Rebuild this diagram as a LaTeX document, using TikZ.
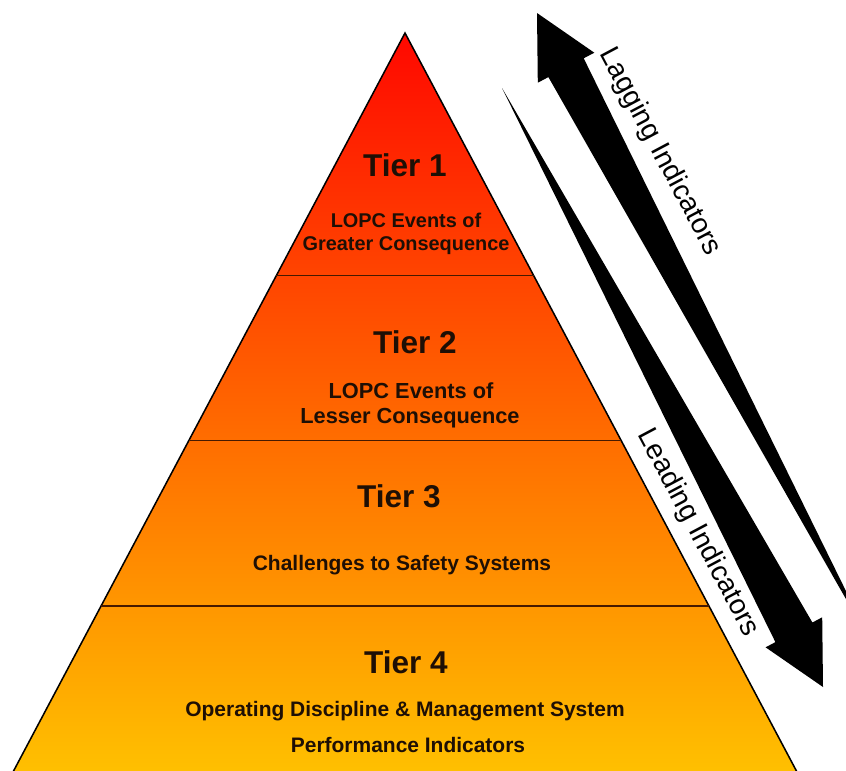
\documentclass[tikz,border=0pt]{standalone}
\usepackage{fontspec}
\setmainfont{Liberation Sans}
\usetikzlibrary{calc}
\definecolor{txt}{RGB}{30,15,5}
\definecolor{pyrtop}{RGB}{255,8,0}
\definecolor{pyrmid}{RGB}{255,105,0}
\definecolor{pyrbot}{RGB}{255,192,0}
\definecolor{divline}{RGB}{70,25,0}
\begin{document}
\begin{tikzpicture}[x=0.03cm,y=-0.03cm,
  tiertitle/.style={font=\bfseries\fontsize{26.9}{30}\selectfont, text=txt, anchor=base, inner sep=0pt},
  tiersub/.style={font=\bfseries\fontsize{17.9}{21}\selectfont, text=txt, anchor=base, inner sep=0pt},
  arrowlabel/.style={font=\fontsize{24}{28}\selectfont, text=black, rotate=-62, inner sep=0pt},
  bigarrow/.style={fill=black, draw=none},
  edge/.style={draw=black, line width=1.3pt, line join=miter},
  divider/.style={draw=divline, line width=1.3pt}]
\useasboundingbox (0,0) rectangle (846,770);
\clip (0,0) rectangle (846,770);
\fill[white] (0,0) rectangle (846,770);

% pyramid
\coordinate (apex) at (405,33);
\coordinate (bl) at (13,772);
\coordinate (br) at (797,772);
\shade[top color=pyrtop, middle color=pyrmid, bottom color=pyrbot] (apex) -- (bl) -- (br) -- cycle;
\draw[edge] (bl) -- (apex) -- (br);

\coordinate (d1l) at ($(apex)!0.3281!(bl)$);
\coordinate (d1r) at ($(apex)!0.3281!(br)$);
\coordinate (d2l) at ($(apex)!0.5514!(bl)$);
\coordinate (d2r) at ($(apex)!0.5514!(br)$);
\coordinate (d3l) at ($(apex)!0.7754!(bl)$);
\coordinate (d3r) at ($(apex)!0.7754!(br)$);
\draw[divider] (d1l) -- (d1r);
\draw[divider] (d2l) -- (d2r);
\draw[divider] (d3l) -- (d3r);

% tier texts
\node[tiertitle] (t1) at (405,176) {Tier 1};
\node[tiersub, font=\bfseries\fontsize{17}{20}\selectfont] (t1a) at (406,227) {LOPC Events of};
\node[tiersub, font=\bfseries\fontsize{17}{20}\selectfont] (t1b) at (406,250) {Greater Consequence};

\node[tiertitle] (t2) at (415,353) {Tier 2};
\node[tiersub, font=\bfseries\fontsize{18.6}{22}\selectfont] (t2a) at (411,398) {LOPC Events of};
\node[tiersub, font=\bfseries\fontsize{18.6}{22}\selectfont] (t2b) at (410,423) {Lesser Consequence};

\node[tiertitle] (t3) at (399,507) {Tier 3};
\node[tiersub] (t3a) at (402,570) {Challenges to Safety Systems};

\node[tiertitle] (t4) at (406,673) {Tier 4};
\node[tiersub] (t4a) at (405,716) {Operating Discipline \& Management System};
\node[tiersub] (t4b) at (408,752) {Performance Indicators};

% lagging (up) arrow
\coordinate (uptip) at (537,13);
\coordinate (uptail) at (875,650);
\fill[bigarrow] (uptip) -- (594.3,52.7) -- (583.7,58.3) -- (uptail) -- (548.4,77.1) -- (537.8,82.7) -- cycle;

% leading (down) arrow
\coordinate (dntail) at (502,88);
\coordinate (dntip) at (823,687);
\fill[bigarrow] (dntail) -- (812.4,622.5) -- (822.2,617.3) -- (dntip) -- (765.6,647.3) -- (775.4,642.1) -- cycle;

% arrow labels
\node[arrowlabel] (lag) at (660,152) {Lagging Indicators};
\node[arrowlabel] (lead) at (698,533) {Leading Indicators};
\end{tikzpicture}
\end{document}
